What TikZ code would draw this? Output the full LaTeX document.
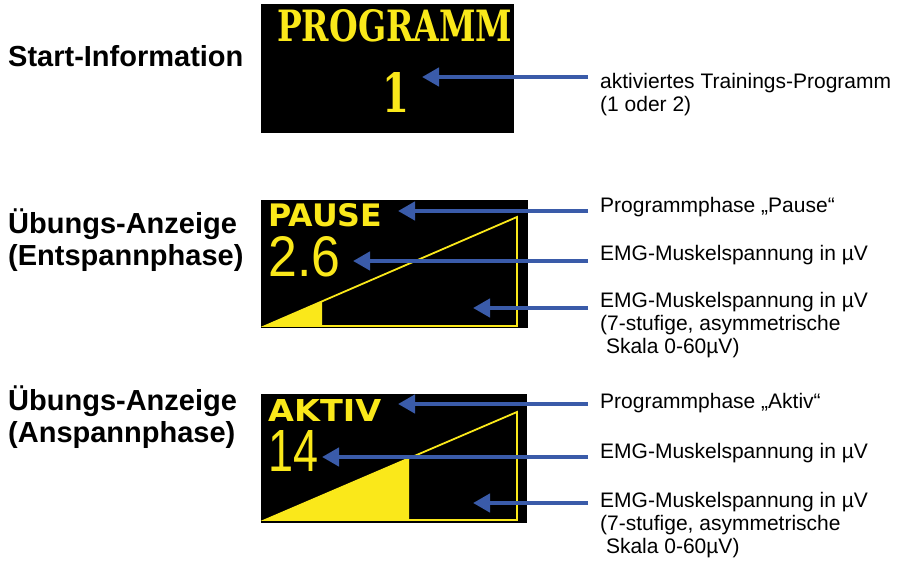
\documentclass[tikz,border=0pt]{standalone}
\usepackage{fontspec}
\setmainfont{Liberation Sans}
\newfontfamily\lcdserif{DejaVu Serif}
\newfontfamily\lcdsans{DejaVu Sans}
\newfontfamily\lcddigits{Liberation Sans}
\usetikzlibrary{arrows.meta}
\definecolor{arrowblue}{HTML}{3A5BA9}
\definecolor{lcdyellow}{HTML}{FAE81A}
\newcommand{\lines}[1]{\begin{tabular}[t]{@{}l@{}}#1\end{tabular}}
\begin{document}
\begin{tikzpicture}[x=1pt,y=-1pt,
  heading/.style={anchor=base west, inner sep=0pt, font=\fontsize{29}{32}\selectfont\bfseries},
  callout/.style={anchor=base west, inner sep=0pt, font=\fontsize{21}{23}\selectfont},
  screen/.style={fill=black, draw=none},
  lcdtext/.style={anchor=south west, inner sep=0pt, text=lcdyellow},
  pointer/.style={draw=arrowblue, line width=4.5pt, -{Triangle[length=17pt,width=18pt]}},
  gauge/.style={draw=lcdyellow, line width=1.8pt, line join=miter},
]
\useasboundingbox (0,0) rectangle (910,561);

% ---------- headings ----------
\node[heading] (h1) at (8,67) {Start-Information};
\node[heading] (h2) at (8,234) {\lines{Übungs-Anzeige\\(Entspannphase)}};
\node[heading] (h3) at (8,410) {\lines{Übungs-Anzeige\\(Anspannphase)}};

% ---------- screen 1 ----------
\fill[screen] (261,4) rectangle (514,133);
\node[lcdtext] (prog) at (277,42) {\resizebox{235pt}{32pt}{\lcdserif\bfseries PROGRAMM}};
\node[lcdtext] (one) at (382,113) {\resizebox{27pt}{40pt}{\lcdserif\bfseries 1}};

% ---------- screen 2 ----------
\fill[screen] (261,200) rectangle (528,328);
\node[lcdtext] (pause) at (268,227) {\resizebox{114pt}{23pt}{\lcdsans\bfseries PAUSE}};
\node[lcdtext] (val2) at (268,277) {\resizebox{72pt}{40pt}{\lcddigits 2.6}};
\draw[gauge] (265,326) -- (517,326) -- (517,217) -- cycle;
\fill[lcdyellow] (265,326) -- (322,326) -- (322,301.3) -- cycle;

% ---------- screen 3 ----------
\fill[screen] (261,394) rectangle (527,523);
\node[lcdtext] (aktiv) at (268,422) {\resizebox{113pt}{22pt}{\lcdsans\bfseries AKTIV}};
\node[lcdtext] (val3) at (268,472) {\resizebox{50pt}{41pt}{\lcddigits 14}};
\draw[gauge] (265,520) -- (517,520) -- (517,412) -- cycle;
\fill[lcdyellow] (265,520) -- (409,520) -- (409,458.3) -- cycle;

% ---------- callouts ----------
\node[callout] (l1) at (600,89) {\lines{aktiviertes Trainings-Programm\\(1 oder 2)}};
\node[callout] (l2a) at (600,213) {Programmphase „Pause“};
\node[callout] (l2b) at (600,261) {EMG-Muskelspannung in µV};
\node[callout] (l2c) at (600,308) {\lines{EMG-Muskelspannung in µV\\(7-stufige, asymmetrische\\~Skala 0-60µV)}};
\node[callout] (l3a) at (600,408) {Programmphase „Aktiv“};
\node[callout] (l3b) at (600,458) {EMG-Muskelspannung in µV};
\node[callout] (l3c) at (600,507) {\lines{EMG-Muskelspannung in µV\\(7-stufige, asymmetrische\\~Skala 0-60µV)}};

% ---------- arrow ends ----------
\coordinate (t1) at (588,77);   \coordinate (p1) at (422,77);
\coordinate (t2a) at (588,211); \coordinate (p2a) at (398,211);
\coordinate (t2b) at (588,261); \coordinate (p2b) at (353,261);
\coordinate (t2c) at (588,308); \coordinate (p2c) at (473,308);
\coordinate (t3a) at (588,404); \coordinate (p3a) at (398,404);
\coordinate (t3b) at (588,457); \coordinate (p3b) at (322,457);
\coordinate (t3c) at (588,503); \coordinate (p3c) at (473,503);

\draw[pointer] (t1) -- (p1);
\draw[pointer] (t2a) -- (p2a);
\draw[pointer] (t2b) -- (p2b);
\draw[pointer] (t2c) -- (p2c);
\draw[pointer] (t3a) -- (p3a);
\draw[pointer] (t3b) -- (p3b);
\draw[pointer] (t3c) -- (p3c);
\end{tikzpicture}
\end{document}
